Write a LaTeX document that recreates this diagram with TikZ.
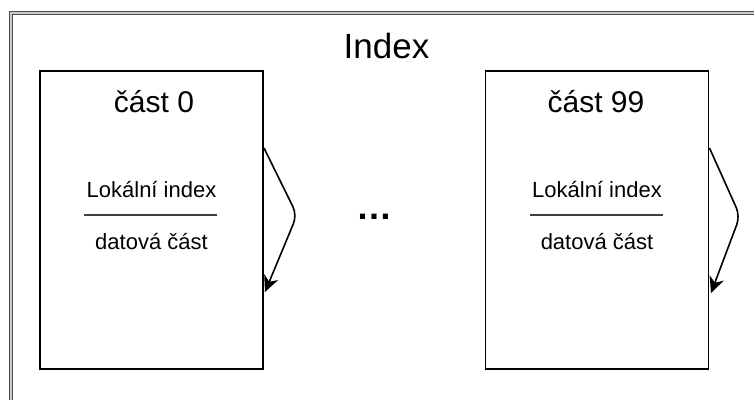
\documentclass[tikz,border=0pt]{standalone}
\usepackage{fontspec}
\setmainfont{Liberation Sans}
\usetikzlibrary{arrows.meta}
\begin{document}
\begin{tikzpicture}[x=1pt,y=1pt,
  partbox/.style={draw=black, line width=1.6pt, anchor=north west, minimum width=223pt, minimum height=298pt, inner sep=0pt, outer sep=0pt},
  titletext/.style={anchor=base, inner sep=0pt, font=\fontsize{35}{40}\selectfont},
  parttext/.style={anchor=base, inner sep=0pt, font=\fontsize{30}{36}\selectfont},
  smalltext/.style={anchor=base, inner sep=0pt, font=\fontsize{22}{26}\selectfont},
  sepline/.style={draw=black!75, line width=1.4pt},
  loop/.style={draw=black, line width=1.6pt, rounded corners=9pt, -{Stealth[length=16pt,width=15pt,inset=5pt]}},
  outerline/.style={draw=black!70, line width=1.3pt, double=black!20, double distance=1.7pt}]
\useasboundingbox (0,0) rectangle (754,-399);
% outer double frame
\draw[outerline] (11.1,-13.1) rectangle (762,-411);
% title
\node[titletext] (title) at (386.5,-58) {Index};
% left part
\node[partbox] (p0) at (40,-71) {};
\node[parttext] (p0t) at (154,-112) {část 0};
\node[smalltext] (p0l) at (151.5,-197) {Lokální index};
\coordinate (p0sa) at (84,-215);
\coordinate (p0sb) at (217,-215);
\draw[sepline] (p0sa) -- (p0sb);
\node[smalltext] (p0d) at (151.5,-249) {datová část};
\coordinate (p0a) at (264,-148);
\coordinate (p0b) at (297,-215);
\coordinate (p0c) at (265,-292);
\draw[loop] (p0a) -- (p0b) -- (p0c);
% dots
\node[anchor=base, inner sep=0pt, font=\fontsize{36}{40}\selectfont\bfseries] (dots) at (374,-219) {…};
% right part
\node[partbox] (p99) at (485.5,-71) {};
\node[parttext] (p99t) at (596,-112) {část 99};
\node[smalltext] (p99l) at (597,-197) {Lokální index};
\coordinate (p99sa) at (530,-215);
\coordinate (p99sb) at (663,-215);
\draw[sepline] (p99sa) -- (p99sb);
\node[smalltext] (p99d) at (597,-249) {datová část};
\coordinate (p99a) at (709.5,-148);
\coordinate (p99b) at (740,-216);
\coordinate (p99c) at (711,-293);
\draw[loop] (p99a) -- (p99b) -- (p99c);
\end{tikzpicture}
\end{document}
